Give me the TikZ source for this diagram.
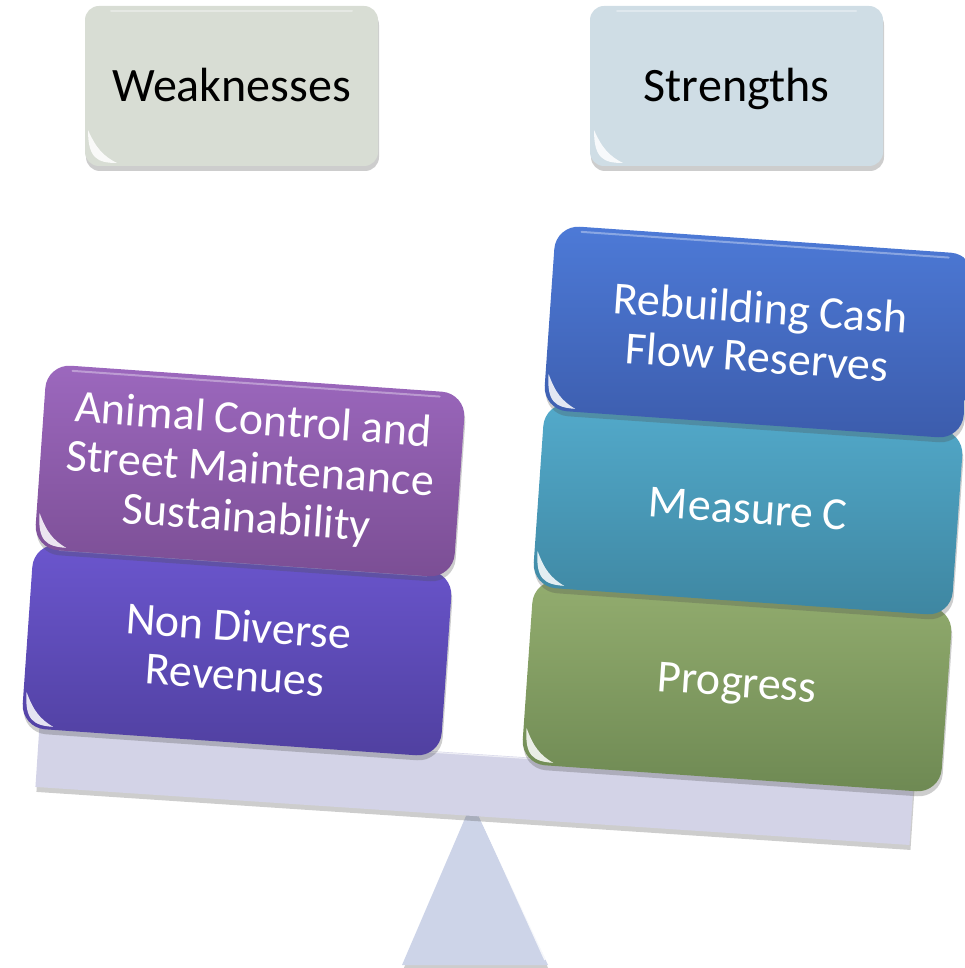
\documentclass[tikz,border=0pt]{standalone}
\usepackage{fontspec}
\setmainfont{Carlito}
\usetikzlibrary{shadows}

% palette
\definecolor{wkfill}{HTML}{D8DDD4}
\definecolor{stfill}{HTML}{CFDDE5}
\definecolor{purpleTop}{HTML}{9C68BE}
\definecolor{purpleBot}{HTML}{7B4E94}
\definecolor{indigoTop}{HTML}{6B56CE}
\definecolor{indigoBot}{HTML}{5040A0}
\definecolor{blueTop}{HTML}{4D7AD7}
\definecolor{blueBot}{HTML}{3C5CAC}
\definecolor{tealTop}{HTML}{53AACB}
\definecolor{tealBot}{HTML}{3E86A1}
\definecolor{greenTop}{HTML}{93AD6F}
\definecolor{greenBot}{HTML}{6E8953}
\definecolor{beamfill}{HTML}{D3D3E7}
\definecolor{fulcrumfill}{HTML}{CDD4E8}

% natural (narrower) word gaps inside centred labels
\newcommand{\tightgaps}{\spaceskip=0.2em\relax}

\tikzset{
  softshadow/.style={drop shadow={shadow xshift=1pt,shadow yshift=-5pt,opacity=.28,fill=black!70}},
  header/.style={rounded corners=14pt, minimum width=293pt, minimum height=160pt,
    inner sep=4pt, text=black, text height=31pt, text depth=0pt,
    font=\fontsize{48}{56}\selectfont, softshadow},
  weight/.style={rounded corners=24pt, minimum width=420pt, minimum height=185pt,
    inner sep=4pt, text width=410pt, align=center, text=white,
    font=\fontsize{46}{49}\selectfont, transform shape, softshadow},
  gloss/.style={fill=white, opacity=.85},
  sheen/.style={draw=white, opacity=.35, line width=2pt, line cap=round},
}

% glossy corner highlight and top sheen of a box, in its local frame
\newcommand{\boxgloss}[2]{%
  \fill[gloss] (-#1+3,#2-36) .. controls (-#1+3,#2-8) and (-#1+12,#2-3) .. (-#1+32,#2-3)
     .. controls (-#1+18,#2-10) and (-#1+11,#2-18) .. cycle;
  \draw[sheen] (-#1+26,-#2+5) -- (#1-26,-#2+5);
}

\begin{document}
\begin{tikzpicture}[x=1pt,y=-1pt]
\useasboundingbox (0,0) rectangle (964,968);

% column headers
\begin{scope}[shift={(231.5,86)}]
  \node[header, fill=wkfill] (wk) at (0,0) {Weaknesses};
  \boxgloss{146.5}{80}
\end{scope}
\begin{scope}[shift={(736.5,86)}]
  \node[header, fill=stfill] (st) at (0,0) {Strengths};
  \boxgloss{145.5}{80}
\end{scope}

% fulcrum
\path[fill=fulcrumfill, softshadow] (472,802) -- (548,965) -- (402,965) -- cycle;
\draw[white, opacity=.8, line width=1.5pt] (478,812) -- (545,960);

% beam
\begin{scope}[shift={(474.5,785)}, rotate=-3.8]
  \node[fill=beamfill, minimum width=876pt, minimum height=62pt, inner sep=0pt,
        transform shape, softshadow] (beam) at (0,0) {};
  \draw[white, opacity=.6, line width=1.2pt] (-436,-30) -- (436,-30);
\end{scope}

% left pan
\begin{scope}[shift={(237,650)}, rotate=-4]
  \node[weight, top color=indigoTop, bottom color=indigoBot] (w2) at (0,0)
    {\tightgaps Non Diverse\\Revenues};
  \boxgloss{210}{92.5}
\end{scope}
\begin{scope}[shift={(250,471)}, rotate=-4]
  \node[weight, top color=purpleTop, bottom color=purpleBot] (w1) at (0,0)
    {\tightgaps Animal Control and\\Street Maintenance\\Sustainability};
  \boxgloss{210}{92.5}
\end{scope}

% right pan
\begin{scope}[shift={(737,686)}, rotate=-4]
  \node[weight, top color=greenTop, bottom color=greenBot] (s3) at (0,0)
    {Progress};
  \boxgloss{210}{92.5}
\end{scope}
\begin{scope}[shift={(748,509)}, rotate=-4]
  \node[weight, top color=tealTop, bottom color=tealBot] (s2) at (0,0)
    {\tightgaps Measure C};
  \boxgloss{210}{92.5}
\end{scope}
\begin{scope}[shift={(759,332)}, rotate=-4]
  \node[weight, top color=blueTop, bottom color=blueBot] (s1) at (0,0)
    {\tightgaps Rebuilding Cash\\Flow Reserves};
  \boxgloss{210}{92.5}
\end{scope}
\end{tikzpicture}
\end{document}
